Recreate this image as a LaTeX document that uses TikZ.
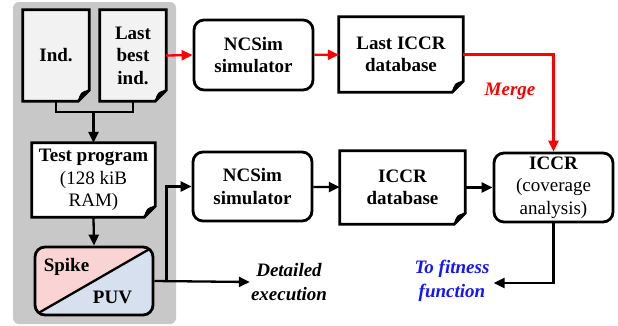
\documentclass[tikz,border=0pt]{standalone}
\usepackage{fontspec}
\setmainfont{Liberation Serif}
\usetikzlibrary{arrows.meta,calc}
\definecolor{bggray}{RGB}{200,200,200}
\definecolor{docgray}{RGB}{242,242,242}
\definecolor{pinkc}{RGB}{250,212,212}
\definecolor{bluec}{RGB}{214,224,238}
\definecolor{fitblue}{RGB}{20,20,255}
\pgfdeclarelayer{backback}
\pgfdeclarelayer{back}
\pgfsetlayers{backback,back,main}
\newcommand\docshape[2]{%
  \begin{pgfonlayer}{back}
  \draw[line width=2.8pt,fill=#2,line join=miter] (#1.north west) -- (#1.north east) -- ([yshift=11pt]#1.south east) -- ([xshift=-11pt]#1.south east) -- (#1.south west) -- cycle;
  \filldraw[line width=1pt,line join=round] ([xshift=-11pt]#1.south east) .. controls ([xshift=-8pt,yshift=9pt]#1.south east) .. ([yshift=11pt]#1.south east) .. controls ([xshift=-5pt,yshift=6pt]#1.south east) .. cycle;
  \end{pgfonlayer}}
\tikzset{
  txt/.style={font=\fontsize{19}{22.5}\selectfont\bfseries, align=center},
  box/.style={txt, draw, line width=2.8pt, rounded corners=10pt, inner sep=0pt},
  docn/.style={txt, inner sep=0pt},
  conn/.style={line width=2.3pt},
  arr/.style={line width=2.3pt, -{Triangle[length=11pt,width=10pt]}},
  redarr/.style={arr, red},
  lbl/.style={font=\fontsize{19}{24}\selectfont\bfseries\itshape, align=center, inner sep=1pt},
}
\begin{document}
\begin{tikzpicture}[x=1pt,y=-1pt]
\useasboundingbox (0,0) rectangle (618,325);
\begin{pgfonlayer}{backback}
\fill[bggray,rounded corners=6pt] (13,2) rectangle (176,324);
\end{pgfonlayer}

% documents
\node[docn, minimum width=66pt, minimum height=91pt] (ind) at (56,55.5) {Ind.};
\docshape{ind}{docgray}
\node[docn, minimum width=66pt, minimum height=91pt] (lbi) at (133,55.5) {Last\\best\\ind.};
\docshape{lbi}{docgray}
\node[docn, minimum width=123pt, minimum height=74pt] (test) at (93.5,180) {Test program\\\mdseries (128 kiB\\\mdseries RAM)};
\docshape{test}{white}
\node[docn, minimum width=124pt, minimum height=75pt] (lastdb) at (401,54.5) {Last ICCR\\database};
\docshape{lastdb}{white}
\node[docn, minimum width=125pt, minimum height=73pt] (iccrdb) at (402.5,187.5) {ICCR\\database};
\docshape{iccrdb}{white}

% rounded boxes
\node[box, minimum width=119pt, minimum height=70pt] (ncsim1) at (253.5,55) {NCSim\\simulator};
\node[box, minimum width=119pt, minimum height=69pt] (ncsim2) at (252.5,186.5) {NCSim\\simulator};
\node[box, fill=white, minimum width=119pt, minimum height=69pt] (iccr) at (553.5,187.5) {ICCR\\\mdseries (coverage\\\mdseries analysis)};
\node[box, minimum width=118pt, minimum height=68pt,
  path picture={
    \fill[pinkc] (path picture bounding box.south west) -- (path picture bounding box.north west) -- (path picture bounding box.north east) -- cycle;
    \fill[bluec] (path picture bounding box.south west) -- (path picture bounding box.south east) -- (path picture bounding box.north east) -- cycle;
    \draw[line width=2.3pt] (path picture bounding box.south west) -- (path picture bounding box.north east);
  }] (spike) at (94,281) {};
\node[txt] (spiket) at (66.5,267) {Spike};
\node[txt] (puvt) at (112.5,297) {PUV};

% labels
\node[lbl] (detailed) at (289,282) {Detailed\\execution};
\node[lbl, text=fitblue] (fitness) at (452,281) {To fitness\\function};
\node[lbl, text=red] (merge) at (510,91) {Merge};

% connectors
\coordinate (j) at ($(test.north)+(0,-31)$);
\draw[conn] (ind.south) |- (j) -| (lbi.south);
\draw[arr] (j) -- (test.north);
\draw[arr] (test.south) -- (spike.north);
\coordinate (k) at ($(spike.east)+(12,0)$);
\draw[arr] (spike.east) -- (detailed.west);
\draw[arr] (k) |- (ncsim2.west);
\draw[arr] (ncsim2) -- (iccrdb);
\draw[arr] (iccrdb) -- (iccr);
\draw[arr] (iccr.south) |- ($(fitness.east)+(3,2)$);
\draw[redarr] (lbi.east) -- (ncsim1.west);
\draw[redarr] (ncsim1) -- (lastdb);
\draw[redarr] (lastdb.east) -| (iccr.north);
\end{tikzpicture}
\end{document}
